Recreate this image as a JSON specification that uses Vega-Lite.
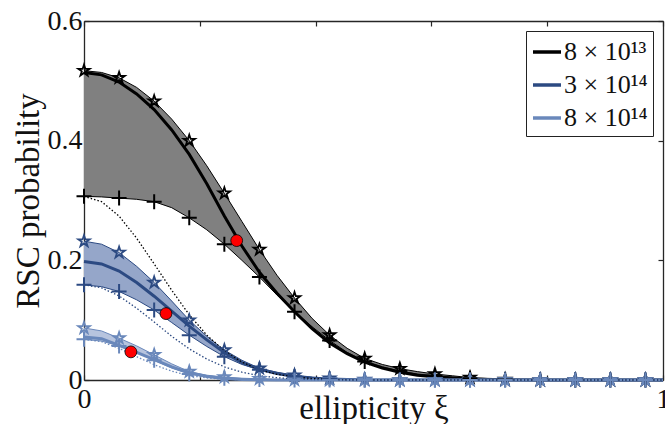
{
  "$schema": "https://vega.github.io/schema/vega-lite/v6.json",
  "width": 579,
  "height": 359,
  "autosize": {"type": "none"},
  "padding": {"left": 84, "top": 21, "right": 2, "bottom": 44},
  "background": "#ffffff",
  "config": {
    "view": {"stroke": null},
    "axis": {"domainColor": "#262626", "domainWidth": 1.3, "tickColor": "#262626", "tickWidth": 1.2, "tickSize": -5, "grid": false,
      "labelFont": "Liberation Serif", "labelFontSize": 28, "labelColor": "#111111",
      "titleFont": "Liberation Serif", "titleFontSize": 33, "titleFontWeight": "normal", "titleColor": "#111111"},
    "legend": {"labelFont": "Liberation Serif", "labelFontSize": 26, "labelColor": "#111111"}
  },
  "datasets": {
    "c": [
      {"s": "8 × 10¹³", "x": 0, "up": 0.517, "lo": 0.307, "mean": 0.514, "dot": 0.307, "mk": 1},
      {"s": "8 × 10¹³", "x": 0.0303, "up": 0.514, "lo": 0.306, "mean": 0.510, "dot": 0.298, "mk": 0},
      {"s": "8 × 10¹³", "x": 0.0606, "up": 0.505, "lo": 0.304, "mean": 0.498, "dot": 0.274, "mk": 1},
      {"s": "8 × 10¹³", "x": 0.0909, "up": 0.489, "lo": 0.302, "mean": 0.478, "dot": 0.237, "mk": 0},
      {"s": "8 × 10¹³", "x": 0.1212, "up": 0.466, "lo": 0.298, "mean": 0.452, "dot": 0.194, "mk": 1},
      {"s": "8 × 10¹³", "x": 0.1515, "up": 0.436, "lo": 0.288, "mean": 0.418, "dot": 0.150, "mk": 0},
      {"s": "8 × 10¹³", "x": 0.1818, "up": 0.400, "lo": 0.271, "mean": 0.377, "dot": 0.109, "mk": 1},
      {"s": "8 × 10¹³", "x": 0.2121, "up": 0.358, "lo": 0.251, "mean": 0.328, "dot": 0.075, "mk": 0},
      {"s": "8 × 10¹³", "x": 0.2424, "up": 0.312, "lo": 0.227, "mean": 0.274, "dot": 0.049, "mk": 1},
      {"s": "8 × 10¹³", "x": 0.2727, "up": 0.265, "lo": 0.200, "mean": 0.224, "dot": 0.030, "mk": 0},
      {"s": "8 × 10¹³", "x": 0.3030, "up": 0.218, "lo": 0.172, "mean": 0.180, "dot": 0.017, "mk": 1},
      {"s": "8 × 10¹³", "x": 0.3333, "up": 0.175, "lo": 0.142, "mean": 0.145, "dot": 0.0095, "mk": 0},
      {"s": "8 × 10¹³", "x": 0.3636, "up": 0.137, "lo": 0.114, "mean": 0.114, "dot": 0.005, "mk": 1},
      {"s": "8 × 10¹³", "x": 0.3939, "up": 0.103, "lo": 0.089, "mean": 0.086, "dot": 0.0024, "mk": 0},
      {"s": "8 × 10¹³", "x": 0.4242, "up": 0.075, "lo": 0.066, "mean": 0.062, "dot": 0.001, "mk": 1},
      {"s": "8 × 10¹³", "x": 0.4545, "up": 0.053, "lo": 0.046, "mean": 0.044, "dot": 0.0004, "mk": 0},
      {"s": "8 × 10¹³", "x": 0.4848, "up": 0.036, "lo": 0.031, "mean": 0.030, "dot": 0, "mk": 1},
      {"s": "8 × 10¹³", "x": 0.5152, "up": 0.026, "lo": 0.022, "mean": 0.020, "dot": 0, "mk": 0},
      {"s": "8 × 10¹³", "x": 0.5455, "up": 0.019, "lo": 0.015, "mean": 0.013, "dot": 0, "mk": 1},
      {"s": "8 × 10¹³", "x": 0.5758, "up": 0.014, "lo": 0.010, "mean": 0.008, "dot": 0, "mk": 0},
      {"s": "8 × 10¹³", "x": 0.6061, "up": 0.010, "lo": 0.007, "mean": 0.0055, "dot": 0, "mk": 1},
      {"s": "8 × 10¹³", "x": 0.6364, "up": 0.007, "lo": 0.005, "mean": 0.003, "dot": 0, "mk": 0},
      {"s": "8 × 10¹³", "x": 0.6667, "up": 0.004, "lo": 0.003, "mean": 0.0015, "dot": 0, "mk": 1},
      {"s": "8 × 10¹³", "x": 0.7273, "up": 0.001, "lo": 0.001, "mean": 0.0003, "dot": 0, "mk": 1},
      {"s": "8 × 10¹³", "x": 0.7879, "up": 0, "lo": 0, "mean": 0, "dot": 0, "mk": 1},
      {"s": "8 × 10¹³", "x": 0.8485, "up": 0, "lo": 0, "mean": 0, "dot": 0, "mk": 1},
      {"s": "8 × 10¹³", "x": 0.9091, "up": 0, "lo": 0, "mean": 0, "dot": 0, "mk": 1},
      {"s": "8 × 10¹³", "x": 0.9697, "up": 0, "lo": 0, "mean": 0, "dot": 0, "mk": 1},
      {"s": "8 × 10¹³", "x": 1, "up": 0, "lo": 0, "mean": 0, "dot": 0, "mk": 0},

      {"s": "3 × 10¹⁴", "x": 0, "up": 0.232, "lo": 0.159, "mean": 0.198, "dot": 0.159, "mk": 1},
      {"s": "3 × 10¹⁴", "x": 0.0303, "up": 0.227, "lo": 0.156, "mean": 0.194, "dot": 0.154, "mk": 0},
      {"s": "3 × 10¹⁴", "x": 0.0606, "up": 0.213, "lo": 0.148, "mean": 0.182, "dot": 0.1405, "mk": 1},
      {"s": "3 × 10¹⁴", "x": 0.0909, "up": 0.190, "lo": 0.134, "mean": 0.163, "dot": 0.120, "mk": 0},
      {"s": "3 × 10¹⁴", "x": 0.1212, "up": 0.163, "lo": 0.117, "mean": 0.140, "dot": 0.097, "mk": 1},
      {"s": "3 × 10¹⁴", "x": 0.1515, "up": 0.132, "lo": 0.096, "mean": 0.115, "dot": 0.073, "mk": 0},
      {"s": "3 × 10¹⁴", "x": 0.1818, "up": 0.100, "lo": 0.075, "mean": 0.090, "dot": 0.052, "mk": 1},
      {"s": "3 × 10¹⁴", "x": 0.2121, "up": 0.073, "lo": 0.056, "mean": 0.067, "dot": 0.035, "mk": 0},
      {"s": "3 × 10¹⁴", "x": 0.2424, "up": 0.050, "lo": 0.039, "mean": 0.046, "dot": 0.022, "mk": 1},
      {"s": "3 × 10¹⁴", "x": 0.2727, "up": 0.033, "lo": 0.026, "mean": 0.029, "dot": 0.013, "mk": 0},
      {"s": "3 × 10¹⁴", "x": 0.3030, "up": 0.0195, "lo": 0.017, "mean": 0.018, "dot": 0.0072, "mk": 1},
      {"s": "3 × 10¹⁴", "x": 0.3333, "up": 0.013, "lo": 0.010, "mean": 0.011, "dot": 0.0038, "mk": 0},
      {"s": "3 × 10¹⁴", "x": 0.3636, "up": 0.008, "lo": 0.006, "mean": 0.006, "dot": 0.0019, "mk": 1},
      {"s": "3 × 10¹⁴", "x": 0.3939, "up": 0.005, "lo": 0.004, "mean": 0.003, "dot": 0.0008, "mk": 0},
      {"s": "3 × 10¹⁴", "x": 0.4242, "up": 0.003, "lo": 0.002, "mean": 0.0015, "dot": 0.0003, "mk": 1},
      {"s": "3 × 10¹⁴", "x": 0.4545, "up": 0.002, "lo": 0.001, "mean": 0.0007, "dot": 0, "mk": 0},
      {"s": "3 × 10¹⁴", "x": 0.4848, "up": 0.001, "lo": 0, "mean": 0, "dot": 0, "mk": 1},
      {"s": "3 × 10¹⁴", "x": 0.5455, "up": 0, "lo": 0, "mean": 0, "dot": 0, "mk": 1},
      {"s": "3 × 10¹⁴", "x": 0.6061, "up": 0, "lo": 0, "mean": 0, "dot": 0, "mk": 1},
      {"s": "3 × 10¹⁴", "x": 0.6667, "up": 0, "lo": 0, "mean": 0, "dot": 0, "mk": 1},
      {"s": "3 × 10¹⁴", "x": 0.7273, "up": 0, "lo": 0, "mean": 0, "dot": 0, "mk": 1},
      {"s": "3 × 10¹⁴", "x": 0.7879, "up": 0, "lo": 0, "mean": 0, "dot": 0, "mk": 1},
      {"s": "3 × 10¹⁴", "x": 0.8485, "up": 0, "lo": 0, "mean": 0, "dot": 0, "mk": 1},
      {"s": "3 × 10¹⁴", "x": 0.9091, "up": 0, "lo": 0, "mean": 0, "dot": 0, "mk": 1},
      {"s": "3 × 10¹⁴", "x": 0.9697, "up": 0, "lo": 0, "mean": 0, "dot": 0, "mk": 1},
      {"s": "3 × 10¹⁴", "x": 1, "up": 0, "lo": 0, "mean": 0, "dot": 0, "mk": 0},

      {"s": "8 × 10¹⁴", "x": 0, "up": 0.087, "lo": 0.068, "mean": 0.072, "dot": 0.068, "mk": 1},
      {"s": "8 × 10¹⁴", "x": 0.0303, "up": 0.082, "lo": 0.065, "mean": 0.069, "dot": 0.064, "mk": 0},
      {"s": "8 × 10¹⁴", "x": 0.0606, "up": 0.070, "lo": 0.057, "mean": 0.058, "dot": 0.053, "mk": 1},
      {"s": "8 × 10¹⁴", "x": 0.0909, "up": 0.057, "lo": 0.046, "mean": 0.046, "dot": 0.039, "mk": 0},
      {"s": "8 × 10¹⁴", "x": 0.1212, "up": 0.042, "lo": 0.033, "mean": 0.034, "dot": 0.0256, "mk": 1},
      {"s": "8 × 10¹⁴", "x": 0.1515, "up": 0.027, "lo": 0.020, "mean": 0.022, "dot": 0.0147, "mk": 0},
      {"s": "8 × 10¹⁴", "x": 0.1818, "up": 0.014, "lo": 0.010, "mean": 0.012, "dot": 0.0075, "mk": 1},
      {"s": "8 × 10¹⁴", "x": 0.2121, "up": 0.008, "lo": 0.0055, "mean": 0.006, "dot": 0.0034, "mk": 0},
      {"s": "8 × 10¹⁴", "x": 0.2424, "up": 0.005, "lo": 0.003, "mean": 0.0025, "dot": 0.0013, "mk": 1},
      {"s": "8 × 10¹⁴", "x": 0.2727, "up": 0.003, "lo": 0.002, "mean": 0.001, "dot": 0.0005, "mk": 0},
      {"s": "8 × 10¹⁴", "x": 0.3030, "up": 0.002, "lo": 0.001, "mean": 0.0003, "dot": 0, "mk": 1},
      {"s": "8 × 10¹⁴", "x": 0.3333, "up": 0.001, "lo": 0.0005, "mean": 0, "dot": 0, "mk": 0},
      {"s": "8 × 10¹⁴", "x": 0.3636, "up": 0.0005, "lo": 0, "mean": 0, "dot": 0, "mk": 1},
      {"s": "8 × 10¹⁴", "x": 0.4242, "up": 0, "lo": 0, "mean": 0, "dot": 0, "mk": 1},
      {"s": "8 × 10¹⁴", "x": 0.4848, "up": 0, "lo": 0, "mean": 0, "dot": 0, "mk": 1},
      {"s": "8 × 10¹⁴", "x": 0.5455, "up": 0, "lo": 0, "mean": 0, "dot": 0, "mk": 1},
      {"s": "8 × 10¹⁴", "x": 0.6061, "up": 0, "lo": 0, "mean": 0, "dot": 0, "mk": 1},
      {"s": "8 × 10¹⁴", "x": 0.6667, "up": 0, "lo": 0, "mean": 0, "dot": 0, "mk": 1},
      {"s": "8 × 10¹⁴", "x": 0.7273, "up": 0, "lo": 0, "mean": 0, "dot": 0, "mk": 1},
      {"s": "8 × 10¹⁴", "x": 0.7879, "up": 0, "lo": 0, "mean": 0, "dot": 0, "mk": 1},
      {"s": "8 × 10¹⁴", "x": 0.8485, "up": 0, "lo": 0, "mean": 0, "dot": 0, "mk": 1},
      {"s": "8 × 10¹⁴", "x": 0.9091, "up": 0, "lo": 0, "mean": 0, "dot": 0, "mk": 1},
      {"s": "8 × 10¹⁴", "x": 0.9697, "up": 0, "lo": 0, "mean": 0, "dot": 0, "mk": 1},
      {"s": "8 × 10¹⁴", "x": 1, "up": 0, "lo": 0, "mean": 0, "dot": 0, "mk": 0}
    ],
    "d": [
      {"x": 0.2637, "y": 0.233},
      {"x": 0.1416, "y": 0.111},
      {"x": 0.081, "y": 0.047}
    ]
  },
  "layer": [
    {
      "data": {"name": "c"},
      "transform": [{"filter": "datum.s == '8 × 10¹³'"}],
      "mark": {"type": "area", "opacity": 1, "color": "#808080"},
      "encoding": {
        "x": {"field": "x", "type": "quantitative", "scale": {"domain": [0, 1], "nice": false}, "axis": null},
        "y": {"field": "up", "type": "quantitative", "scale": {"domain": [0, 0.6], "nice": false}, "axis": null},
        "y2": {"field": "lo"}
      }
    },
    {
      "data": {"name": "c"},
      "transform": [{"filter": "datum.s == '3 × 10¹⁴'"}],
      "mark": {"type": "area", "opacity": 1, "color": "#95a6c9"},
      "encoding": {
        "x": {"field": "x", "type": "quantitative", "axis": null},
        "y": {"field": "up", "type": "quantitative", "axis": null},
        "y2": {"field": "lo"}
      }
    },
    {
      "data": {"name": "c"},
      "transform": [{"filter": "datum.s == '8 × 10¹⁴'"}],
      "mark": {"type": "area", "opacity": 1, "color": "#b7c4de"},
      "encoding": {
        "x": {"field": "x", "type": "quantitative", "axis": null},
        "y": {"field": "up", "type": "quantitative", "axis": null},
        "y2": {"field": "lo"}
      }
    },
    {
      "data": {"name": "c"},
      "mark": {"type": "line", "strokeWidth": 1},
      "encoding": {
        "x": {"field": "x", "type": "quantitative", "axis": null},
        "y": {"field": "up", "type": "quantitative", "axis": null},
        "color": {"field": "s", "type": "nominal"}
      }
    },
    {
      "data": {"name": "c"},
      "mark": {"type": "line", "strokeWidth": 1},
      "encoding": {
        "x": {"field": "x", "type": "quantitative", "axis": null},
        "y": {"field": "lo", "type": "quantitative", "axis": null},
        "color": {"field": "s", "type": "nominal"}
      }
    },
    {
      "data": {"name": "c"},
      "mark": {"type": "line", "strokeWidth": 3},
      "encoding": {
        "x": {"field": "x", "type": "quantitative",
          "axis": {"orient": "bottom", "values": [0, 0.2, 0.4, 0.6, 0.8, 1], "format": "~g", "labelExpr": "datum.value == 0 || datum.value == 1 ? datum.label : ''", "labelFlush": false, "labelPadding": 10, "title": "ellipticity ξ", "titleBaseline": "alphabetic", "titleY": 38}},
        "y": {"field": "mean", "type": "quantitative",
          "axis": {"orient": "left", "values": [0, 0.2, 0.4, 0.6], "format": "~g", "labelPadding": 7, "title": "RSC probability", "titleBaseline": "alphabetic", "titleX": -46}},
        "color": {"field": "s", "type": "nominal",
          "scale": {"domain": ["8 × 10¹³", "3 × 10¹⁴", "8 × 10¹⁴"], "range": ["#000000", "#2c4a82", "#6a88bb"]},
          "legend": {"title": null, "orient": "top-right", "offset": 10, "symbolType": "stroke", "symbolSize": 784, "symbolStrokeWidth": 3.5, "labelOffset": 1, "rowPadding": 4, "padding": 5, "strokeColor": "#222222", "fillColor": "#ffffff"}}
      }
    },
    {
      "data": {"name": "c"},
      "mark": {"type": "line", "strokeWidth": 1.3, "strokeDash": [1.5, 2]},
      "encoding": {
        "x": {"field": "x", "type": "quantitative", "axis": null},
        "y": {"field": "dot", "type": "quantitative", "axis": null},
        "color": {"field": "s", "type": "nominal"}
      }
    },
    {
      "data": {"name": "c"},
      "transform": [{"filter": "datum.mk == 1"}],
      "mark": {"type": "point", "shape": "M0,-1L0.2245,-0.309L0.951,-0.309L0.363,0.118L0.588,0.809L0,0.382L-0.588,0.809L-0.363,0.118L-0.951,-0.309L-0.2245,-0.309Z", "size": 144, "strokeWidth": 1.8, "filled": false, "opacity": 1},
      "encoding": {
        "x": {"field": "x", "type": "quantitative", "axis": null},
        "y": {"field": "up", "type": "quantitative", "axis": null},
        "color": {"field": "s", "type": "nominal"}
      }
    },
    {
      "data": {"name": "c"},
      "transform": [{"filter": "datum.mk == 1"}],
      "mark": {"type": "point", "shape": "M-1,0L1,0M0,-1L0,1", "size": 225, "strokeWidth": 2, "filled": false, "opacity": 1},
      "encoding": {
        "x": {"field": "x", "type": "quantitative", "axis": null},
        "y": {"field": "lo", "type": "quantitative", "axis": null},
        "color": {"field": "s", "type": "nominal"}
      }
    },
    {
      "data": {"name": "d"},
      "mark": {"type": "point", "shape": "circle", "filled": true, "fill": "#ff0000", "stroke": "#000000", "strokeWidth": 0.8, "size": 140, "opacity": 1},
      "encoding": {
        "x": {"field": "x", "type": "quantitative",
          "axis": {"orient": "top", "values": [0, 0.2, 0.4, 0.6, 0.8, 1], "labels": false, "title": null}},
        "y": {"field": "y", "type": "quantitative",
          "axis": {"orient": "right", "values": [0, 0.2, 0.4, 0.6], "labels": false, "title": null}}
      }
    }
  ],
  "resolve": {"axis": {"x": "independent", "y": "independent"}}
}
